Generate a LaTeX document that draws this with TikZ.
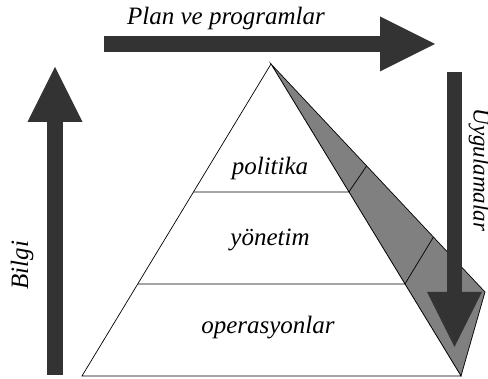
\documentclass[tikz,border=0pt]{standalone}
\usepackage{fontspec}
\setmainfont{Liberation Serif}
\usetikzlibrary{arrows.meta,calc}
\definecolor{darkarrow}{HTML}{333333}
\definecolor{sideface}{HTML}{808080}

\begin{document}
\begin{tikzpicture}[x=1pt, y=1pt,
    every node/.style = {font=\fontsize{25}{30}\selectfont\itshape,
      inner sep=0pt},
    bigarrow/.style = {draw=darkarrow, line width=16pt,
      -{Triangle[length=55pt, width=55pt, line width=0pt]}},
    layer/.style = {draw=black, line width=0.7pt}]
  \useasboundingbox (0,0) rectangle (488,379);
  % pyramid with its shaded side
  \coordinate (apex) at (271,315);
  \coordinate (bl) at (82,3);
  \coordinate (br) at (461,3);
  \coordinate (outer) at (485,87);
  \filldraw[layer, fill=sideface] (apex) -- (outer) -- (br) -- cycle;
  \filldraw[layer, fill=white] (apex) -- (bl) -- (br) -- cycle;
  \coordinate (l1) at ($(apex)!0.41!(bl)$);
  \coordinate (r1) at ($(apex)!0.41!(br)$);
  \coordinate (l2) at ($(apex)!0.705!(bl)$);
  \coordinate (r2) at ($(apex)!0.705!(br)$);
  \coordinate (s1) at ($(apex)!0.447!(outer)$);
  \coordinate (s2) at ($(apex)!0.759!(outer)$);
  \draw[layer] (l1) -- (r1) -- (s1);
  \draw[layer] (l2) -- (r2) -- (s2);
  \node (politika) at (270,211) {politika};
  \node (yonetim) at (270,139) {yönetim};
  \node (operasyon) at (268,51) {operasyonlar};
  % flows
  \coordinate (planstart) at (104,335);
  \coordinate (planend) at (435,335);
  \coordinate (bilgistart) at (55,4);
  \coordinate (bilgiend) at (55,312);
  \coordinate (uygstart) at (454.5,307);
  \coordinate (uygend) at (454.5,32);
  \draw[bigarrow] (planstart) -- (planend);
  \draw[bigarrow] (bilgistart) -- (bilgiend);
  \draw[bigarrow, line width=15pt] (uygstart) -- (uygend);
  \node (plan) at (226,361) {Plan ve programlar};
  \node[rotate=90] (bilgi) at (22,114) {Bilgi};
  \node[rotate=-90, font=\fontsize{23}{28}\selectfont\itshape] (uyg) at (479,209) {Uygulamalar};
\end{tikzpicture}
\end{document}
